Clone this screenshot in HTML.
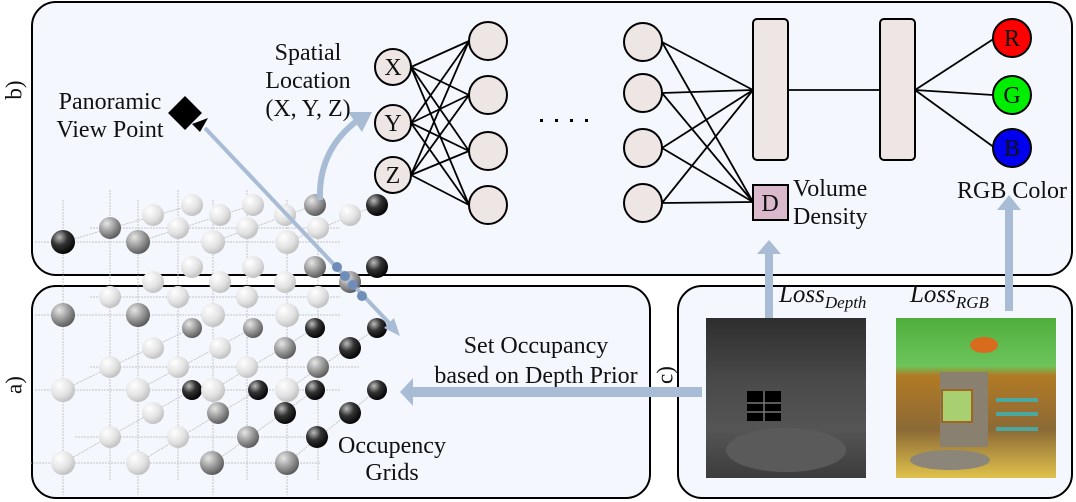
<!DOCTYPE html>
<html><head><meta charset="utf-8"><style>
html,body{margin:0;padding:0;background:#fff}
svg{display:block}
text{font-family:"Liberation Serif",serif;fill:#111}
</style></head><body>
<svg width="1076" height="502" viewBox="0 0 1076 502" xmlns="http://www.w3.org/2000/svg">
<defs>
<radialGradient id="gl" cx="0.35" cy="0.3" r="0.75"><stop offset="0" stop-color="#ffffff"/><stop offset="0.6" stop-color="#e2e2e2"/><stop offset="1" stop-color="#bdbdbd"/></radialGradient>
<radialGradient id="gg" cx="0.35" cy="0.3" r="0.75"><stop offset="0" stop-color="#e6e6e6"/><stop offset="0.6" stop-color="#8e8e8e"/><stop offset="1" stop-color="#555"/></radialGradient>
<radialGradient id="gd" cx="0.35" cy="0.3" r="0.75"><stop offset="0" stop-color="#bbbbbb"/><stop offset="0.45" stop-color="#333"/><stop offset="1" stop-color="#000"/></radialGradient>
<linearGradient id="dep" x1="0" y1="0" x2="0" y2="1"><stop offset="0" stop-color="#2e2e2e"/><stop offset="0.4" stop-color="#4a4a4a"/><stop offset="0.7" stop-color="#555"/><stop offset="1" stop-color="#3c3c3c"/></linearGradient>
<linearGradient id="rgb" x1="0" y1="0" x2="0" y2="1"><stop offset="0" stop-color="#4fae3c"/><stop offset="0.3" stop-color="#6cc45a"/><stop offset="0.36" stop-color="#b27a25"/><stop offset="0.7" stop-color="#8c6a36"/><stop offset="1" stop-color="#e0c24a"/></linearGradient>
</defs>
<rect x="32" y="2" width="1040" height="273" rx="24" fill="#f4f7fe" stroke="#000" stroke-width="2"/>
<rect x="32" y="286" width="618" height="212" rx="24" fill="#f4f7fe" stroke="#000" stroke-width="2"/>
<rect x="678" y="286" width="394" height="212" rx="24" fill="#f4f7fe" stroke="#000" stroke-width="2"/>
<text x="16" y="90" font-size="23" transform="rotate(-90 16 90)" text-anchor="middle" dominant-baseline="middle">b)</text>
<text x="16" y="385" font-size="23" transform="rotate(-90 16 385)" text-anchor="middle" dominant-baseline="middle">a)</text>
<text x="667" y="375" font-size="23" transform="rotate(-90 667 375)" text-anchor="middle" dominant-baseline="middle">c)</text>

<g stroke="#bbb" stroke-width="1" stroke-dasharray="2,1" opacity="0.8">
<line x1="63" y1="200" x2="63" y2="495"/><line x1="138" y1="200" x2="138" y2="495"/><line x1="213" y1="200" x2="213" y2="495"/><line x1="287" y1="200" x2="287" y2="495"/>
<line x1="110" y1="190" x2="110" y2="480"/><line x1="178" y1="190" x2="178" y2="480"/><line x1="247" y1="190" x2="247" y2="480"/><line x1="318" y1="190" x2="318" y2="480"/>
<line x1="35" y1="242" x2="340" y2="242"/><line x1="35" y1="315" x2="340" y2="315"/><line x1="35" y1="390" x2="340" y2="390"/><line x1="30" y1="463" x2="320" y2="463"/>
<line x1="90" y1="228" x2="340" y2="228"/><line x1="90" y1="297" x2="340" y2="297"/><line x1="90" y1="367" x2="360" y2="367"/><line x1="75" y1="437" x2="330" y2="437"/>
<line x1="63" y1="242" x2="192" y2="205"/><line x1="138" y1="242" x2="253" y2="205"/><line x1="213" y1="242" x2="315" y2="205"/><line x1="287" y1="242" x2="377" y2="205"/>
<line x1="63" y1="390" x2="192" y2="328"/><line x1="138" y1="390" x2="253" y2="328"/><line x1="213" y1="390" x2="315" y2="328"/><line x1="287" y1="390" x2="377" y2="328"/>
<line x1="63" y1="463" x2="192" y2="390"/><line x1="138" y1="463" x2="258" y2="390"/><line x1="213" y1="463" x2="315" y2="390"/><line x1="287" y1="463" x2="377" y2="390"/>
</g>
<g>
<circle cx="192" cy="205" r="11" fill="url(#gl)"/><circle cx="253" cy="205" r="11" fill="url(#gl)"/><circle cx="315" cy="205" r="11" fill="url(#gg)"/><circle cx="377" cy="205" r="11" fill="url(#gd)"/>
<circle cx="153" cy="215" r="11" fill="url(#gl)"/><circle cx="220" cy="215" r="11" fill="url(#gl)"/><circle cx="285" cy="215" r="11" fill="url(#gl)"/><circle cx="350" cy="215" r="11" fill="url(#gl)"/>
<circle cx="110" cy="228" r="11" fill="url(#gg)"/><circle cx="178" cy="228" r="11" fill="url(#gl)"/><circle cx="247" cy="228" r="11" fill="url(#gl)"/><circle cx="318" cy="228" r="11" fill="url(#gl)"/>
<circle cx="63" cy="242" r="12" fill="url(#gd)"/><circle cx="138" cy="242" r="12" fill="url(#gg)"/><circle cx="213" cy="242" r="12" fill="url(#gl)"/><circle cx="287" cy="242" r="12" fill="url(#gl)"/>
<circle cx="192" cy="267" r="11" fill="url(#gl)"/><circle cx="253" cy="267" r="11" fill="url(#gl)"/><circle cx="315" cy="267" r="11" fill="url(#gg)"/><circle cx="377" cy="267" r="11" fill="url(#gd)"/>
<circle cx="153" cy="282" r="11" fill="url(#gl)"/><circle cx="220" cy="282" r="11" fill="url(#gl)"/><circle cx="285" cy="282" r="11" fill="url(#gl)"/><circle cx="350" cy="282" r="11" fill="url(#gg)"/>
<circle cx="110" cy="297" r="11" fill="url(#gl)"/><circle cx="178" cy="297" r="11" fill="url(#gl)"/><circle cx="247" cy="297" r="11" fill="url(#gl)"/><circle cx="318" cy="297" r="11" fill="url(#gl)"/>
<circle cx="63" cy="315" r="12" fill="url(#gg)"/><circle cx="138" cy="315" r="12" fill="url(#gg)"/><circle cx="213" cy="315" r="12" fill="url(#gl)"/><circle cx="287" cy="315" r="12" fill="url(#gl)"/>
<circle cx="192" cy="328" r="10" fill="url(#gg)"/><circle cx="253" cy="328" r="10" fill="url(#gg)"/><circle cx="315" cy="328" r="10" fill="url(#gd)"/><circle cx="377" cy="328" r="10" fill="url(#gd)"/>
<circle cx="153" cy="348" r="11" fill="url(#gl)"/><circle cx="220" cy="348" r="11" fill="url(#gl)"/><circle cx="285" cy="348" r="11" fill="url(#gg)"/><circle cx="350" cy="348" r="11" fill="url(#gd)"/>
<circle cx="110" cy="367" r="11" fill="url(#gl)"/><circle cx="178" cy="367" r="11" fill="url(#gl)"/><circle cx="247" cy="367" r="11" fill="url(#gl)"/><circle cx="318" cy="367" r="11" fill="url(#gg)"/>
<circle cx="63" cy="390" r="12" fill="url(#gl)"/><circle cx="138" cy="390" r="12" fill="url(#gl)"/><circle cx="192" cy="390" r="10" fill="url(#gd)"/><circle cx="213" cy="390" r="12" fill="url(#gl)"/><circle cx="258" cy="390" r="10" fill="url(#gd)"/><circle cx="287" cy="390" r="12" fill="url(#gl)"/><circle cx="315" cy="390" r="10" fill="url(#gd)"/><circle cx="377" cy="390" r="10" fill="url(#gd)"/>
<circle cx="153" cy="413" r="11" fill="url(#gl)"/><circle cx="218" cy="413" r="11" fill="url(#gg)"/><circle cx="285" cy="413" r="11" fill="url(#gd)"/><circle cx="350" cy="413" r="11" fill="url(#gd)"/>
<circle cx="110" cy="437" r="11" fill="url(#gl)"/><circle cx="178" cy="437" r="11" fill="url(#gl)"/><circle cx="248" cy="437" r="11" fill="url(#gg)"/><circle cx="317" cy="437" r="11" fill="url(#gd)"/>
<circle cx="63" cy="463" r="12" fill="url(#gl)"/><circle cx="138" cy="463" r="12" fill="url(#gl)"/><circle cx="212" cy="463" r="12" fill="url(#gg)"/><circle cx="287" cy="463" r="12" fill="url(#gg)"/>
</g>

<rect x="173" y="101" width="24" height="24" fill="#000" transform="rotate(45 185 113)"/>
<polygon points="192,124 208,118 200,132" fill="#000"/>
<line x1="205" y1="128" x2="392" y2="326" stroke="#a9bcd6" stroke-width="4"/>
<polygon points="400,336 384,328 394,318" fill="#a9bcd6"/>
<g fill="#6f8db8"><circle cx="337" cy="267" r="5"/><circle cx="345" cy="276" r="5"/><circle cx="353" cy="285" r="5"/><circle cx="362" cy="296" r="5"/></g>
<path d="M320 200 Q318 150 358 120" fill="none" stroke="#a9bcd6" stroke-width="6"/>
<polygon points="372,112 348,112 362,132" fill="#a9bcd6"/>

<g font-size="24" text-anchor="middle">
<text x="110" y="109">Panoramic</text><text x="110" y="137">View Point</text>
<text x="308" y="60">Spatial</text><text x="308" y="88">Location</text><text x="308" y="116">(X, Y, Z)</text>
<text x="1012" y="198">RGB Color</text>
<text x="536" y="353">Set Occupancy</text><text x="536" y="383">based on Depth Prior</text>
<text x="392" y="453">Occupency</text><text x="392" y="480">Grids</text>
</g>
<g font-size="24"><text x="793" y="196">Volume</text><text x="793" y="224">Density</text></g>

<g stroke="#000" stroke-width="1.8">
<line x1="411" y1="67" x2="469" y2="41"/><line x1="411" y1="67" x2="469" y2="95"/><line x1="411" y1="67" x2="469" y2="151"/><line x1="411" y1="67" x2="469" y2="205"/>
<line x1="411" y1="123" x2="469" y2="41"/><line x1="411" y1="123" x2="469" y2="95"/><line x1="411" y1="123" x2="469" y2="151"/><line x1="411" y1="123" x2="469" y2="205"/>
<line x1="411" y1="175" x2="469" y2="41"/><line x1="411" y1="175" x2="469" y2="95"/><line x1="411" y1="175" x2="469" y2="151"/><line x1="411" y1="175" x2="469" y2="205"/>
<line x1="662" y1="42" x2="753" y2="90"/><line x1="662" y1="93" x2="753" y2="90"/><line x1="662" y1="148" x2="753" y2="90"/><line x1="662" y1="203" x2="753" y2="90"/>
<line x1="662" y1="42" x2="753" y2="202"/><line x1="662" y1="93" x2="753" y2="202"/><line x1="662" y1="148" x2="753" y2="202"/><line x1="662" y1="203" x2="753" y2="202"/>
<line x1="788" y1="90" x2="880" y2="90"/>
<line x1="915" y1="90" x2="995" y2="38"/><line x1="915" y1="90" x2="993" y2="95"/><line x1="915" y1="90" x2="995" y2="148"/>
</g>
<g stroke="#000" stroke-width="2" fill="#ede6e4">
<circle cx="393" cy="67" r="18"/><circle cx="393" cy="123" r="18"/><circle cx="393" cy="175" r="18"/>
<circle cx="488" cy="41" r="19"/><circle cx="488" cy="95" r="19"/><circle cx="488" cy="151" r="19"/><circle cx="488" cy="205" r="19"/>
<circle cx="643" cy="42" r="19"/><circle cx="643" cy="93" r="19"/><circle cx="643" cy="148" r="19"/><circle cx="643" cy="203" r="19"/>
<rect x="753" y="19" width="35" height="141" rx="4"/><rect x="880" y="19" width="35" height="141" rx="4"/>
<rect x="753" y="185" width="35" height="35" fill="#d9b9cb"/>
<circle cx="1012" cy="38" r="19" fill="#ff0000"/><circle cx="1012" cy="95" r="19" fill="#00ee00"/><circle cx="1012" cy="148" r="19" fill="#0000ee"/>
</g>
<g font-size="24" text-anchor="middle">
<text x="393" y="75">X</text><text x="393" y="131">Y</text><text x="393" y="183">Z</text>
<text x="770" y="211">D</text>
<text x="1012" y="46">R</text><text x="1012" y="103">G</text><text x="1012" y="156">B</text>
</g>
<g fill="#000"><rect x="540" y="119" width="3" height="3"/><rect x="555" y="119" width="3" height="3"/><rect x="570" y="119" width="3" height="3"/><rect x="585" y="119" width="3" height="3"/></g>

<rect x="412" y="387" width="290" height="10" fill="#a9bcd6"/>
<polygon points="400,392 413,378 413,406" fill="#a9bcd6"/>
<rect x="765" y="252" width="8" height="66" fill="#a9bcd6"/>
<polygon points="769,240 757,254 781,254" fill="#a9bcd6"/>
<rect x="1005" y="208" width="8" height="103" fill="#a9bcd6"/>
<polygon points="1009,195 997,210 1021,210" fill="#a9bcd6"/>
<g font-size="25" font-style="italic"><text x="779" y="302">Loss<tspan font-size="17" dy="6">Depth</tspan></text>
<text x="910" y="302">Loss<tspan font-size="17" dy="6">RGB</tspan></text></g>

<rect x="706" y="318" width="160" height="160" fill="url(#dep)"/>
<ellipse cx="786" cy="450" rx="60" ry="22" fill="#5a5a5a"/>
<rect x="747" y="391" width="34" height="30" fill="#000"/>
<g stroke="#777" stroke-width="1.5"><line x1="764" y1="391" x2="764" y2="421"/><line x1="747" y1="403" x2="781" y2="403"/><line x1="747" y1="412" x2="781" y2="412"/></g>
<rect x="896" y="318" width="160" height="160" fill="url(#rgb)"/>
<rect x="940" y="372" width="48" height="75" fill="#8a8070"/>
<rect x="942" y="390" width="30" height="32" fill="#a8d070" stroke="#a0661e" stroke-width="2"/>
<ellipse cx="984" cy="345" rx="14" ry="8" fill="#d86b1e"/>
<rect x="996" y="398" width="42" height="4" fill="#4aa8a0"/><rect x="996" y="412" width="42" height="4" fill="#4aa8a0"/><rect x="996" y="427" width="42" height="4" fill="#4aa8a0"/>
<ellipse cx="950" cy="460" rx="40" ry="10" fill="#8b857a"/>
</svg>
</body></html>
